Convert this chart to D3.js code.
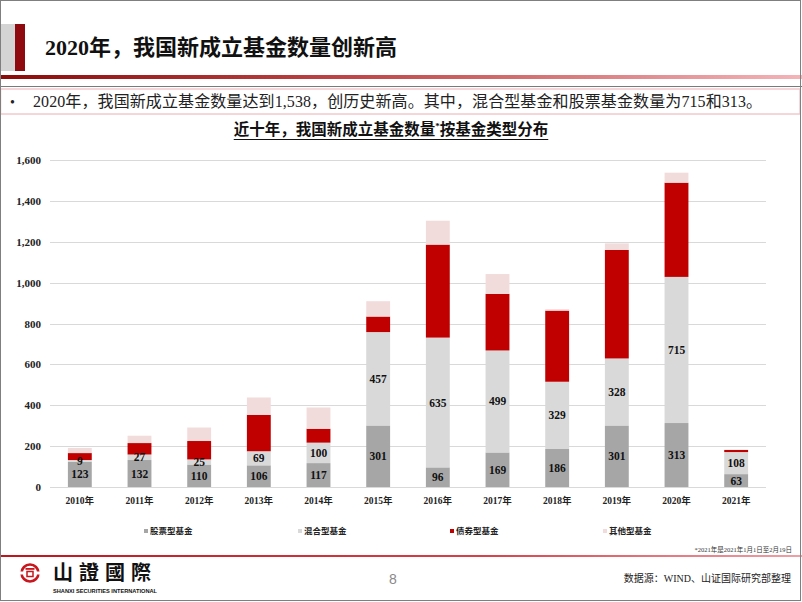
<!DOCTYPE html>
<html><head><meta charset="utf-8">
<script src="https://cdn.jsdelivr.net/npm/d3@7"></script>
<style>
html,body{margin:0;padding:0;background:#fff;}
svg{display:block;}
</style></head>
<body>
<script>
const years = ["2010年","2011年","2012年","2013年","2014年","2015年","2016年","2017年","2018年","2019年","2020年","2021年"];
const stockFunds = [123,132,110,106,117,301,96,169,186,301,313,63];
const mixedFunds = [9,27,25,69,100,457,635,499,329,328,715,108];
const bondFunds = [34,56,90,178,68,76,455,277,348,531,461,10];
const otherFunds = [25,36,66,85,104,75,117,97,7,32,49,2];
const seriesNames = ["股票型基金","混合型基金","债券型基金","其他型基金"];
const seriesColors = ["#a6a6a6","#d9d9d9","#c00000","#f2dcdb"];
const yTicks = [0,200,400,600,800,1000,1200,1400,1600];

const SERIF = '"Liberation Serif","Noto Sans CJK SC",serif';
const W = 802, H = 602;
const svg = d3.select("body").append("svg").attr("width", W).attr("height", H)
  .style("font-family", SERIF);
const defs = svg.append("defs");

svg.append("rect").attr("x",0).attr("y",0).attr("width",W).attr("height",H).attr("fill","#fff");

// header
const g1 = defs.append("linearGradient").attr("id","hdr").attr("x1","0%").attr("x2","100%");
g1.append("stop").attr("offset","0%").attr("stop-color","#8b0a0a");
g1.append("stop").attr("offset","45%").attr("stop-color","#c04848");
g1.append("stop").attr("offset","100%").attr("stop-color","#f4b4b8");
const g2 = defs.append("linearGradient").attr("id","ftr").attr("x1","0%").attr("x2","100%");
g2.append("stop").attr("offset","0%").attr("stop-color","#c0141c");
g2.append("stop").attr("offset","60%").attr("stop-color","#d84048");
g2.append("stop").attr("offset","100%").attr("stop-color","#f0a0a8");

svg.append("rect").attr("x",0).attr("y",24).attr("width",15).attr("height",47).attr("fill","#d4d4d4");
svg.append("rect").attr("x",15).attr("y",24).attr("width",10).attr("height",47).attr("fill","#8e0a0e");
svg.append("text").attr("x",45).attr("y",55).attr("font-size",22).attr("font-weight","bold").attr("fill","#111")
  .text("2020年，我国新成立基金数量创新高");
svg.append("rect").attr("x",0).attr("y",75).attr("width",W).attr("height",4).attr("fill","url(#hdr)");
svg.append("line").attr("x1",0).attr("x2",W).attr("y1",86.5).attr("y2",86.5).attr("stroke","#7a7a7a").attr("stroke-width",1);
svg.append("rect").attr("x",0.5).attr("y",89).attr("width",799.5).attr("height",25).attr("fill","none").attr("stroke","#f2c8cc").attr("stroke-width",1.5);
svg.append("text").attr("x",10).attr("y",107).attr("font-size",14).attr("fill","#222").text("•");
svg.append("text").attr("x",33).attr("y",107).attr("font-size",16).attr("fill","#222")
  .attr("textLength",729).attr("lengthAdjust","spacing")
  .text("2020年，我国新成立基金数量达到1,538，创历史新高。其中，混合型基金和股票基金数量为715和313。");

// chart title
const title = svg.append("text").attr("x",391).attr("y",135).attr("text-anchor","middle").attr("font-size",15.5).attr("font-weight","bold").attr("fill","#111");
title.append("tspan").text("近十年，我国新成立基金数量");
title.append("tspan").attr("font-size",9).attr("dy",-6).text("*");
title.append("tspan").attr("dy",6).text("按基金类型分布");
const tb = title.node().getBBox();
svg.append("line").attr("x1",tb.x).attr("x2",tb.x+tb.width).attr("y1",139.5).attr("y2",139.5).attr("stroke","#111").attr("stroke-width",1);

// scales
const x = d3.scaleBand().domain(years).range([50,766]).paddingInner(0.6).paddingOuter(0.3);
const y = d3.scaleLinear().domain([0,1600]).range([487,160]);

// grid
svg.append("g").selectAll("line").data(yTicks).join("line")
  .attr("x1",50).attr("x2",766).attr("y1",d=>Math.round(y(d))+0.5).attr("y2",d=>Math.round(y(d))+0.5)
  .attr("stroke","#d9d9d9").attr("stroke-width",1);

// y axis labels
const yAxis = d3.axisLeft(y).tickValues(yTicks).tickFormat(d3.format(",")).tickSize(0).tickPadding(0);
const ya = svg.append("g").attr("transform","translate(41,0)").call(yAxis);
ya.select(".domain").remove();
ya.selectAll("text").attr("font-size",11).attr("font-weight","bold").attr("fill","#222")
  .style("font-family", SERIF);

// x axis labels
const xAxis = d3.axisBottom(x).tickSize(0).tickPadding(0);
const xa = svg.append("g").attr("transform","translate(0,497)").call(xAxis);
xa.select(".domain").remove();
xa.selectAll("text").attr("font-size",9.5).attr("font-weight","bold").attr("fill","#222")
  .style("font-family", SERIF);

// stacked data
const rows = years.map((yr,i)=>({year:yr, s0:stockFunds[i], s1:mixedFunds[i], s2:bondFunds[i], s3:otherFunds[i]}));
const stack = d3.stack().keys(["s0","s1","s2","s3"]);
const series = stack(rows);

svg.append("g").selectAll("g").data(series).join("g")
  .attr("fill",(d,i)=>seriesColors[i])
  .selectAll("rect").data(d=>d).join("rect")
  .attr("x",d=>x(d.data.year)).attr("width",x.bandwidth())
  .attr("y",d=>y(d[1])).attr("height",d=>y(d[0])-y(d[1]));

// labels for stock and mixed
const lab = svg.append("g");
[0,1].forEach(k=>{
  lab.selectAll(null).data(series[k]).join("text")
    .attr("x",d=>x(d.data.year)+x.bandwidth()/2)
    .attr("y",d=>(y(d[0])+y(d[1]))/2)
    .attr("dy","0.35em")
    .attr("text-anchor","middle")
    .attr("font-size",11.5).attr("font-weight","bold").attr("fill","#111")
    .text(d=>d[1]-d[0]);
});

// legend
const legX = [144,298,450,603];
const leg = svg.append("g");
seriesNames.forEach((n,i)=>{
  leg.append("rect").attr("x",legX[i]).attr("y",529).attr("width",4).attr("height",4).attr("fill",seriesColors[i]);
  leg.append("text").attr("x",legX[i]+6).attr("y",534).attr("font-size",8.5).attr("font-weight","bold").attr("fill","#222").text(n);
});

// footnote & footer
svg.append("text").attr("x",792).attr("y",552).attr("text-anchor","end").attr("font-size",6.5).attr("fill","#333")
  .text("*2021年是2021年1月1日至2月19日");
svg.append("rect").attr("x",0).attr("y",555).attr("width",W).attr("height",2).attr("fill","url(#ftr)");

// logo
const lg = svg.append("g").attr("transform","translate(30,573)");
lg.append("circle").attr("r",8.5).attr("fill","none").attr("stroke","#c8161e").attr("stroke-width",2.6);
lg.append("rect").attr("x",-10).attr("y",-1.5).attr("width",20).attr("height",3).attr("fill","#fff");
lg.append("rect").attr("x",-4.5).attr("y",-5).attr("width",9).attr("height",1.8).attr("fill","#c8161e");
lg.append("rect").attr("x",-3).attr("y",-1.5).attr("width",6).attr("height",5).attr("fill","none").attr("stroke","#c8161e").attr("stroke-width",1.5);
svg.append("text").attr("x",53).attr("y",580).attr("font-size",20).attr("font-weight","bold").attr("fill","#111")
  .style("font-family",'"Noto Sans CJK TC","Noto Sans CJK SC",sans-serif').attr("letter-spacing",6).text("山證國際");
svg.append("text").attr("x",53).attr("y",593).attr("font-size",5).attr("font-weight","bold").attr("fill","#111")
  .style("font-family",'"Liberation Sans",Arial,sans-serif').attr("textLength",104).attr("lengthAdjust","spacingAndGlyphs").text("SHANXI SECURITIES INTERNATIONAL");

svg.append("text").attr("x",393).attr("y",584).attr("text-anchor","middle").attr("font-size",14).attr("fill","#8a8a8a")
  .style("font-family",'"Liberation Sans",Arial,sans-serif').text("8");
svg.append("text").attr("x",791).attr("y",582).attr("text-anchor","end").attr("font-size",10).attr("fill","#222")
  .text("数据源：WIND、山证国际研究部整理");

// page border
svg.append("rect").attr("x",0.5).attr("y",0.5).attr("width",800).attr("height",600).attr("fill","none").attr("stroke","#7f7f7f").attr("stroke-width",1);
</script>
</body></html>
